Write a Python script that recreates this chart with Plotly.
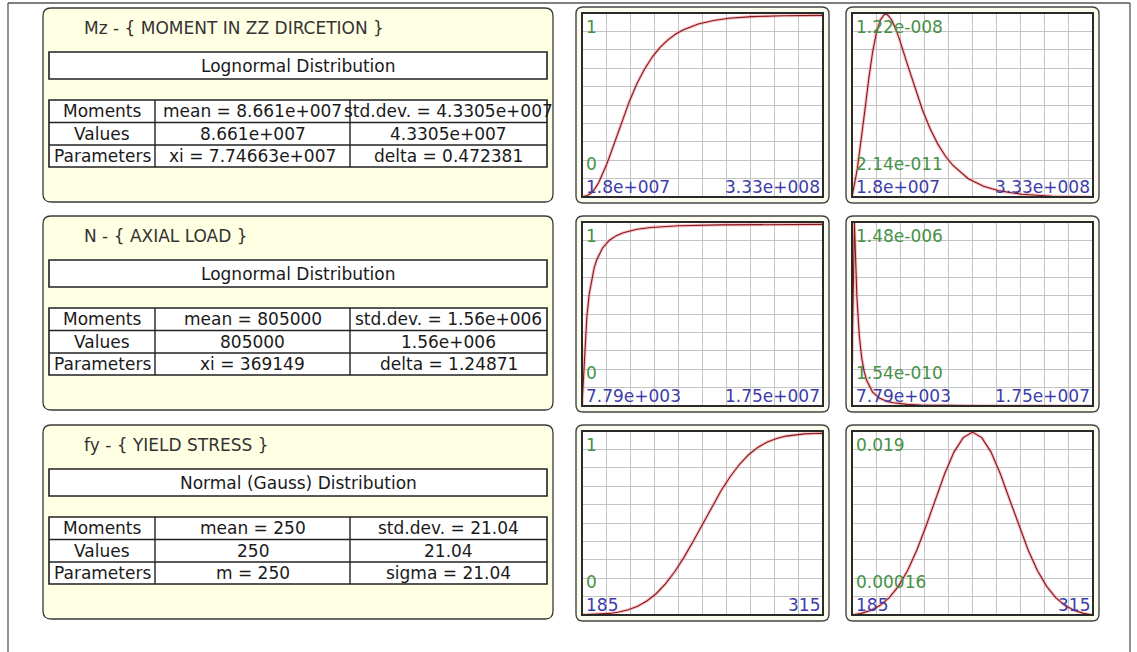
import plotly.graph_objects as go

W, H = 1137, 652

# ---------------- data ----------------
# Mz - moment in ZZ direction (lognormal)
mz_x = [1.8e7, 2.0e7, 2.2e7, 2.5e7, 3.0e7, 3.5e7, 4.0e7, 4.5e7, 5.0e7, 5.5e7, 6.0e7, 6.2e7,
        6.5e7, 7.0e7, 7.5e7, 8.0e7, 9.0e7, 1.0e8, 1.1e8, 1.2e8, 1.3e8, 1.4e8, 1.5e8, 1.7e8,
        1.9e8, 2.1e8, 2.4e8, 2.8e8, 3.33e8]
mz_cdf = [0.001, 0.002, 0.004, 0.008, 0.022, 0.046, 0.081, 0.125, 0.177, 0.234, 0.294, 0.319,
          0.355, 0.415, 0.473, 0.527, 0.625, 0.705, 0.771, 0.823, 0.863, 0.895, 0.919, 0.952,
          0.971, 0.983, 0.992, 0.997, 0.999]
mz_pdf = [2.14e-11, 6.95e-10, 1.10e-9, 1.92e-9, 3.75e-9, 5.86e-9, 7.93e-9, 9.69e-9, 1.099e-8,
          1.181e-8, 1.216e-8, 1.22e-8, 1.213e-8, 1.179e-8, 1.123e-8, 1.053e-8, 8.92e-9, 7.30e-9,
          5.83e-9, 4.58e-9, 3.56e-9, 2.75e-9, 2.12e-9, 1.24e-9, 7.32e-10, 4.33e-10, 2.00e-10,
          7.5e-11, 2.14e-11]

# N - axial load (lognormal)
n_x = [7.79e3, 1.845e5, 3.61e5, 5.38e5, 7.15e5, 8.91e5, 1.07e6, 1.5e6, 2.0e6, 2.5e6, 3.0e6,
       4.0e6, 5.0e6, 7.0e6, 1.0e7, 1.3e7, 1.75e7]
n_cdf = [0.001, 0.289, 0.493, 0.619, 0.702, 0.760, 0.803, 0.869, 0.912, 0.937, 0.953,
         0.972, 0.982, 0.991, 0.996, 0.998, 0.999]
n_pdf = [3.47e-7, 1.48e-6, 8.85e-7, 5.67e-7, 3.88e-7, 2.80e-7, 2.08e-7, 1.13e-7, 6.40e-8,
         3.95e-8, 2.61e-8, 1.29e-8, 7.2e-9, 2.8e-9, 9.7e-10, 4.2e-10, 1.54e-10]

# fy - yield stress (normal)
fy_x = [185, 190, 195, 200, 205, 210, 215, 220, 225, 230, 235, 240, 245, 250,
        255, 260, 265, 270, 275, 280, 285, 290, 295, 300, 305, 310, 315]
fy_cdf = [0.001, 0.0022, 0.0045, 0.0087, 0.0162, 0.0286, 0.048, 0.077, 0.117, 0.171, 0.238,
          0.317, 0.406, 0.5, 0.594, 0.683, 0.762, 0.829, 0.883, 0.923, 0.952, 0.971, 0.984,
          0.991, 0.996, 0.998, 0.999]
fy_pdf = [0.00016, 0.000325, 0.000622, 0.001127, 0.001927, 0.003114, 0.00475, 0.00686,
          0.00936, 0.01206, 0.01471, 0.01694, 0.01843, 0.019, 0.01843, 0.01694, 0.01471,
          0.01206, 0.00936, 0.00686, 0.00475, 0.003114, 0.001927, 0.001127, 0.000622,
          0.000325, 0.00016]

# panel texts
var_titles = ["Mz - { MOMENT IN ZZ DIRCETION }", "N - { AXIAL LOAD }", "fy - { YIELD STRESS }"]
dist_names = ["Lognormal Distribution", "Lognormal Distribution", "Normal (Gauss) Distribution"]
row_heads = ["Moments", "Values", "Parameters"]
table_col2 = [["mean = 8.661e+007", "8.661e+007", "xi = 7.74663e+007"],
              ["mean = 805000", "805000", "xi = 369149"],
              ["mean = 250", "250", "m = 250"]]
table_col3 = [["std.dev. = 4.3305e+007", "4.3305e+007", "delta = 0.472381"],
              ["std.dev. = 1.56e+006", "1.56e+006", "delta = 1.24871"],
              ["std.dev. = 21.04", "21.04", "sigma = 21.04"]]

x_labels = [["1.8e+007", "3.33e+008"], ["7.79e+003", "1.75e+007"], ["185", "315"]]
cdf_labels = ["1", "0"]
pdf_labels = [["1.22e-008", "2.14e-011"], ["1.48e-006", "1.54e-010"], ["0.019", "0.00016"]]

series = [(mz_x, mz_cdf, mz_pdf), (n_x, n_cdf, n_pdf), (fy_x, fy_cdf, fy_pdf)]

# ---------------- geometry (pixels) ----------------
FONT = "DejaVu Sans"
FS = 17
PANEL_TOPS = [8, 216, 425]
PANEL_H = 194
PANEL_X0, PANEL_X1 = 43, 553
PLOT_TOPS = [13, 222, 431]
PLOT_H = 184
PLOT_COLS = [(582, 823), (852, 1093)]

GREEN = "rgb(70,145,70)"
BLUE = "rgb(60,60,170)"
CURVE = "#861818"
HALO = "rgba(240,120,130,0.45)"
GRID = "#c4c4c4"


def fx(x):
    return x / W


def fy(y):
    return 1 - y / H


def rounded(x0, y0, x1, y1, r):
    p = lambda x, y: f"{fx(x):.6f},{fy(y):.6f}"
    return (f"M {p(x0 + r, y0)} L {p(x1 - r, y0)} Q {p(x1, y0)} {p(x1, y0 + r)} "
            f"L {p(x1, y1 - r)} Q {p(x1, y1)} {p(x1 - r, y1)} "
            f"L {p(x0 + r, y1)} Q {p(x0, y1)} {p(x0, y1 - r)} "
            f"L {p(x0, y0 + r)} Q {p(x0, y0)} {p(x0 + r, y0)} Z")


shapes = []
annotations = []


def rect(x0, y0, x1, y1, line="#222", width=1.5, fill=None, layer="below"):
    shapes.append(dict(type="rect", xref="paper", yref="paper",
                       x0=fx(x0), x1=fx(x1), y0=fy(y1), y1=fy(y0),
                       line=dict(color=line, width=width),
                       fillcolor=fill if fill else "rgba(0,0,0,0)", layer=layer))


def hline(x0, x1, y, color="#222", width=1.5):
    shapes.append(dict(type="line", xref="paper", yref="paper", x0=fx(x0), x1=fx(x1),
                       y0=fy(y), y1=fy(y), line=dict(color=color, width=width), layer="above"))


def vline(x, y0, y1, color="#222", width=1.5):
    shapes.append(dict(type="line", xref="paper", yref="paper", x0=fx(x), x1=fx(x),
                       y0=fy(y0), y1=fy(y1), line=dict(color=color, width=width), layer="above"))


def text(x, y, s, anchor="center", color="#1a1a1a", size=FS):
    annotations.append(dict(x=fx(x), y=fy(y), xref="paper", yref="paper", text=s,
                            showarrow=False, xanchor=anchor, yanchor="middle",
                            font=dict(family=FONT, size=size, color=color)))


# outer frame
hline(8, 1130, 3, color="#555", width=1.3)
vline(8, 3, 652, color="#555", width=1.3)
vline(1130, 3, 652, color="#555", width=1.3)

fig = go.Figure()
layout_axes = {}

for r in range(3):
    # ---- info panel ----
    T = PANEL_TOPS[r]
    shapes.append(dict(type="path", xref="paper", yref="paper",
                       path=rounded(PANEL_X0, T, PANEL_X1, T + PANEL_H, 8),
                       fillcolor="rgb(255,255,228)", line=dict(color="#3a3a3a", width=1.3),
                       layer="below"))
    text(82, T + 20, var_titles[r], anchor="left", color="#333")
    rect(49, T + 44, 547, T + 71, fill="white", width=1.6)
    text(298, T + 57.5, dist_names[r])
    row_y = [T + 92, T + 114.5, T + 137, T + 159]
    rect(49, row_y[0], 547, row_y[3], fill="white", width=1.6)
    for yy in row_y[1:3]:
        hline(49, 547, yy, width=1.4)
    vline(155, row_y[0], row_y[3], width=1.4)
    vline(350, row_y[0], row_y[3], width=1.4)
    for k in range(3):
        yc = (row_y[k] + row_y[k + 1]) / 2
        text(102, yc, row_heads[k])
        text(252.5, yc, table_col2[r][k])
        text(448.5, yc, table_col3[r][k])

    # ---- CDF / PDF plots ----
    xs, cdf, pdf = series[r]
    PT = PLOT_TOPS[r]
    PB = PT + PLOT_H
    for c, ys in enumerate([cdf, pdf]):
        L, R = PLOT_COLS[c]
        idx = r * 2 + c + 1
        sfx = "" if idx == 1 else str(idx)
        shapes.append(dict(type="path", xref="paper", yref="paper",
                           path=rounded(L - 6, PT - 6, R + 6, PB + 6, 7),
                           fillcolor="rgb(252,252,238)", line=dict(color="#444", width=1.4),
                           layer="below"))
        rect(L, PT, R, PB, fill="white", line="white", width=0)
        rect(L, PT, R, PB, line="#2a2a2a", width=2, layer="above")

        x0, x1 = min(xs), max(xs)
        y0, y1 = min(ys), max(ys)
        if c == 0:
            y0, y1 = 0.0, 1.0
        ytop = y1 + (y1 - y0) * (0.012 if c == 0 else 0.006)
        layout_axes["xaxis" + sfx] = dict(
            domain=[fx(L), fx(R)], range=[x0, x1], anchor="y" + sfx,
            tickvals=[x0 + k * (x1 - x0) / 10 for k in range(1, 10)],
            showticklabels=False, ticks="", showgrid=True, gridcolor=GRID, gridwidth=1,
            zeroline=False, showline=False, fixedrange=True)
        layout_axes["yaxis" + sfx] = dict(
            domain=[fy(PB), fy(PT)], range=[y0, ytop], anchor="x" + sfx,
            tickvals=[y0 + k * (ytop - y0) / 10 for k in range(1, 10)],
            showticklabels=False, ticks="", showgrid=True, gridcolor=GRID, gridwidth=1,
            zeroline=False, showline=False, fixedrange=True)

        fig.add_trace(go.Scatter(x=xs, y=ys, xaxis="x" + sfx, yaxis="y" + sfx, mode="lines",
                                 line=dict(color=HALO, width=3.2), hoverinfo="skip",
                                 showlegend=False))
        fig.add_trace(go.Scatter(x=xs, y=ys, xaxis="x" + sfx, yaxis="y" + sfx, mode="lines",
                                 line=dict(color=CURVE, width=1.1), hoverinfo="skip",
                                 showlegend=False))

        top_lab, bot_lab = (cdf_labels if c == 0 else pdf_labels[r])
        text(L + 2, PT + 14, top_lab, anchor="left", color=GREEN)
        text(L + 2, PB - 33, bot_lab, anchor="left", color=GREEN)
        text(L + 2, PB - 10, x_labels[r][0], anchor="left", color=BLUE)
        text(R - 1, PB - 10, x_labels[r][1], anchor="right", color=BLUE)

fig.update_layout(width=W, height=H, margin=dict(l=0, r=0, t=0, b=0),
                  paper_bgcolor="white", plot_bgcolor="white",
                  shapes=shapes, annotations=annotations, showlegend=False,
                  **layout_axes)

fig.write_html("out.html")
